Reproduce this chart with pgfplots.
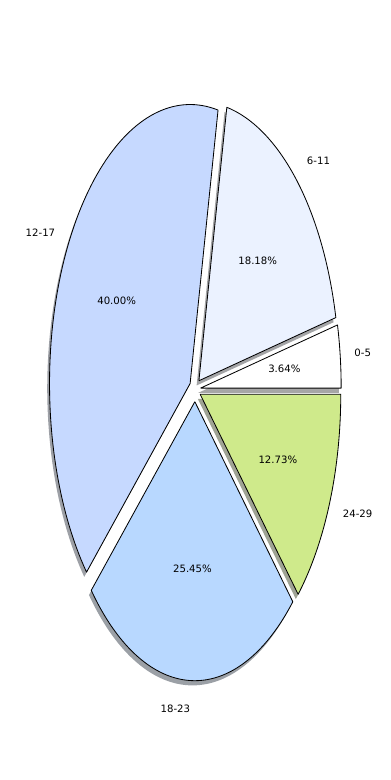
\documentclass[border=0pt]{standalone}
\usepackage{fontspec}
\setmainfont{DejaVu Sans}
\usepackage{pgfplots}
\pgfplotsset{compat=1.18}
\definecolor{cA}{RGB}{255,255,255}
\definecolor{cB}{RGB}{235,242,255}
\definecolor{cC}{RGB}{198,217,255}
\definecolor{cD}{RGB}{184,216,255}
\definecolor{cE}{RGB}{207,234,139}
\definecolor{sA}{rgb}{0.650,0.650,0.650}
\definecolor{sB}{rgb}{0.638,0.642,0.650}
\definecolor{sC}{rgb}{0.616,0.628,0.650}
\definecolor{sD}{rgb}{0.608,0.627,0.650}
\definecolor{sE}{rgb}{0.622,0.638,0.582}
\def\cx{195}\def\cy{389.5}\def\rx{140.6}\def\ry{279}\def\ex{5.6}\def\ey{12.2}
% #1 style, #2 cumulative start (%), #3 share (%), #4 dx, #5 dy
\newcommand{\wedgeplot}[5]{%
\addplot[#1, samples at={-1,0,...,91}, variable=\t]
 ({ifthenelse(or(\t<0,\t>90), \cx+\ex*cos(3.6*(#2+#3/2)), \cx+\ex*cos(3.6*(#2+#3/2))+\rx*cos(3.6*(#2+#3*\t/90))) + #4},
  {ifthenelse(or(\t<0,\t>90), \cy-\ey*sin(3.6*(#2+#3/2)), \cy-\ey*sin(3.6*(#2+#3/2))-\ry*sin(3.6*(#2+#3*\t/90))) + #5});
}
% #1 start, #2 share, #3 label, #4 anchor, #5 pct text
\newcommand{\slicelabels}[5]{%
\node[anchor=#4, inner sep=0pt, font=\fontsize{7.3}{9}\selectfont] at (axis cs:{\cx+(\ex+1.1*\rx)*cos(3.6*(#1+#2/2))},{\cy-(\ey+1.1*\ry)*sin(3.6*(#1+#2/2))}) {#3};
\node[anchor=center, inner sep=0pt, font=\fontsize{7.3}{9}\selectfont] at (axis cs:{\cx+(\ex+0.6*\rx)*cos(3.6*(#1+#2/2))},{\cy-(\ey+0.6*\ry)*sin(3.6*(#1+#2/2))}) {#5};
}
\begin{document}
\begin{tikzpicture}
\begin{axis}[scale only axis, width=280.8pt, height=561.6pt,
  xmin=0, xmax=390, ymin=0, ymax=780, y dir=reverse, hide axis, clip=false]
\path (rel axis cs:0,0) rectangle (rel axis cs:1,1);
% shadows
\wedgeplot{fill=sA, draw=none}{0}{3.6364}{-2.3}{4.7}
\wedgeplot{fill=sB, draw=none}{3.6364}{18.1818}{-2.3}{4.7}
\wedgeplot{fill=sC, draw=none}{21.8182}{40.0000}{-2.3}{4.7}
\wedgeplot{fill=sD, draw=none}{61.8182}{25.4545}{-2.3}{4.7}
\wedgeplot{fill=sE, draw=none}{87.2727}{12.7273}{-2.3}{4.7}
% wedges
\wedgeplot{fill=cA, draw=black, line width=0.6pt, line join=round}{0}{3.6364}{0}{0}
\wedgeplot{fill=cB, draw=black, line width=0.6pt, line join=round}{3.6364}{18.1818}{0}{0}
\wedgeplot{fill=cC, draw=black, line width=0.6pt, line join=round}{21.8182}{40.0000}{0}{0}
\wedgeplot{fill=cD, draw=black, line width=0.6pt, line join=round}{61.8182}{25.4545}{0}{0}
\wedgeplot{fill=cE, draw=black, line width=0.6pt, line join=round}{87.2727}{12.7273}{0}{0}
% labels
\slicelabels{0}{3.6364}{0-5}{west}{3.64\%}
\slicelabels{3.6364}{18.1818}{6-11}{west}{18.18\%}
\slicelabels{21.8182}{40.0000}{12-17}{east}{40.00\%}
\slicelabels{61.8182}{25.4545}{18-23}{east}{25.45\%}
\slicelabels{87.2727}{12.7273}{24-29}{west}{12.73\%}
\end{axis}
\end{tikzpicture}
\end{document}
